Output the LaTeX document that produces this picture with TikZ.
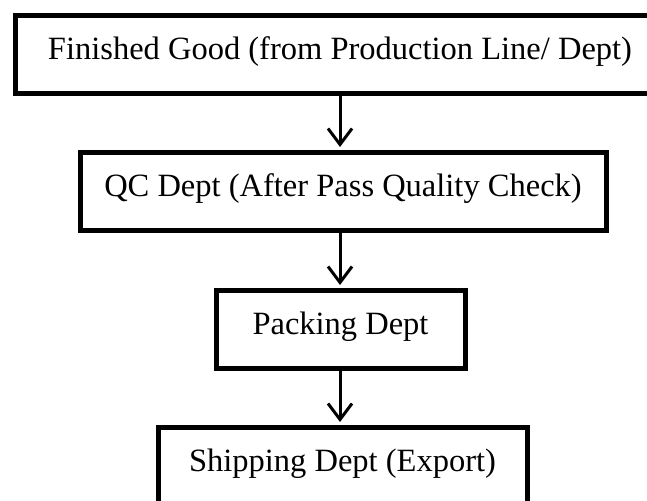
\documentclass[tikz,border=0pt]{standalone}
\usepackage{fontspec}
\setmainfont{Liberation Serif}
\usetikzlibrary{arrows.meta}
\begin{document}
\begin{tikzpicture}[x=1pt,y=-1pt,
  dept/.style={draw,line width=5pt,inner sep=0pt,minimum height=78pt,text height=44pt,text depth=34pt,font=\fontsize{32.5}{39}\selectfont},
  flow/.style={line width=3pt,-{Straight Barb[length=16pt,width=24pt]},shorten >=2.5pt}]
\useasboundingbox (0,0) rectangle (647,500);
\node[dept,minimum width=650pt] (fin) at (340,55) {Finished Good (from Production Line/ Dept)};
\node[dept,minimum width=526pt] (qc) at (343,191) {QC Dept (After Pass Quality Check)};
\node[dept,minimum width=249pt] (pack) at (340.5,329) {Packing Dept};
\node[dept,minimum width=369pt] (ship) at (342.5,466) {Shipping Dept (Export)};
\draw[flow] (fin.south) -- (fin.south |- qc.north);
\draw[flow] (qc.south -| fin.south) -- (fin.south |- pack.north);
\draw[flow] (pack.south -| fin.south) -- (fin.south |- ship.north);
\end{tikzpicture}
\end{document}
